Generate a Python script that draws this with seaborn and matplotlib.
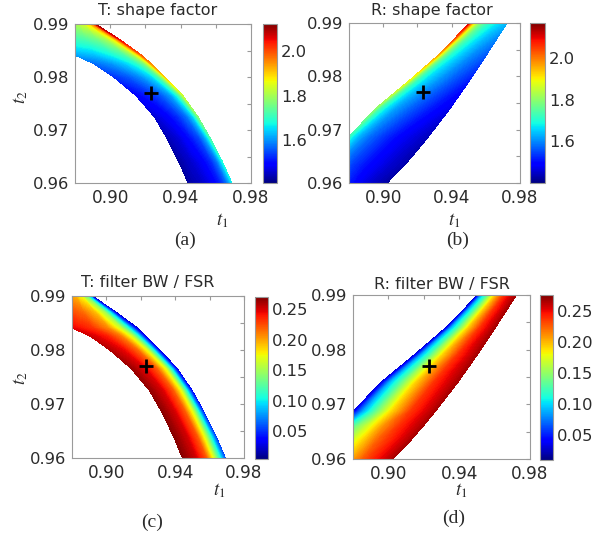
import matplotlib
matplotlib.use("Agg")
import matplotlib.pyplot as plt
import matplotlib.tri as mtri
import numpy as np
import seaborn as sns
from matplotlib.cm import ScalarMappable
from matplotlib.colors import Normalize

# design point marked with "+" in every panel
DESIGN_T1 = [0.923]
DESIGN_T2 = [0.977]

# T panels (a, c): valid band cut along t2, inner (lower-left) and outer edge in t1
T_SECTION_T2 = [0.9590, 0.9640, 0.9685, 0.9725, 0.9765, 0.9800, 0.9825, 0.9841, 0.9870, 0.9910]
T_INNER_T1 = [0.9455, 0.9390, 0.9322, 0.9250, 0.9146, 0.9019, 0.8908, 0.8800, 0.8780, 0.8780]
T_OUTER_T1 = [0.9705, 0.9638, 0.9568, 0.9499, 0.9413, 0.9311, 0.9233, 0.9180, 0.9057, 0.8872]
T_FRAC = [0.0, 0.3, 0.55, 0.75, 0.88, 0.96, 1.0]

T_SHAPE = [
    [1.43, 1.45, 1.48, 1.52, 1.57, 1.62, 1.66],
    [1.43, 1.46, 1.49, 1.53, 1.58, 1.64, 1.68],
    [1.44, 1.47, 1.51, 1.55, 1.61, 1.67, 1.72],
    [1.46, 1.49, 1.53, 1.58, 1.64, 1.71, 1.77],
    [1.49, 1.52, 1.56, 1.61, 1.68, 1.76, 1.83],
    [1.53, 1.56, 1.60, 1.65, 1.72, 1.81, 1.90],
    [1.57, 1.60, 1.64, 1.69, 1.76, 1.86, 1.95],
    [1.61, 1.63, 1.67, 1.72, 1.80, 1.90, 1.99],
    [1.70, 1.72, 1.75, 1.80, 1.87, 1.96, 2.05],
    [1.82, 1.84, 1.87, 1.92, 1.98, 2.05, 2.12],
]
T_BW = [
    [0.268, 0.252, 0.222, 0.157, 0.104, 0.071, 0.056],
    [0.268, 0.251, 0.221, 0.160, 0.103, 0.066, 0.050],
    [0.267, 0.250, 0.220, 0.163, 0.101, 0.058, 0.040],
    [0.265, 0.249, 0.220, 0.166, 0.099, 0.050, 0.032],
    [0.263, 0.247, 0.219, 0.167, 0.098, 0.045, 0.026],
    [0.258, 0.243, 0.216, 0.165, 0.097, 0.043, 0.023],
    [0.252, 0.238, 0.211, 0.162, 0.096, 0.042, 0.022],
    [0.246, 0.232, 0.206, 0.158, 0.095, 0.042, 0.021],
    [0.228, 0.215, 0.192, 0.150, 0.092, 0.040, 0.020],
    [0.200, 0.188, 0.166, 0.130, 0.085, 0.038, 0.018],
]

# R panels (b, d): band between upper-left edge (A) and lower-right edge (B)
R_SECTION_T2 = [0.9590, 0.9635, 0.9660, 0.9687, 0.9740, 0.9790, 0.9840, 0.9875, 0.9910]
R_EDGE_A_T1 = [0.8780, 0.8780, 0.8780, 0.8800, 0.8957, 0.9144, 0.9323, 0.9429, 0.9531]
R_EDGE_B_T1 = [0.8993, 0.9129, 0.9196, 0.9265, 0.9392, 0.9501, 0.9604, 0.9674, 0.9744]
R_FRAC = [0.0, 0.04, 0.12, 0.25, 0.45, 0.7, 1.0]

R_SHAPE = [
    [1.52, 1.51, 1.50, 1.48, 1.46, 1.44, 1.42],
    [1.57, 1.56, 1.54, 1.52, 1.49, 1.46, 1.43],
    [1.63, 1.61, 1.58, 1.55, 1.51, 1.47, 1.43],
    [1.72, 1.68, 1.63, 1.58, 1.53, 1.48, 1.44],
    [1.80, 1.74, 1.68, 1.62, 1.57, 1.52, 1.47],
    [1.88, 1.80, 1.72, 1.66, 1.61, 1.56, 1.51],
    [1.96, 1.88, 1.78, 1.70, 1.65, 1.60, 1.56],
    [2.05, 1.97, 1.86, 1.76, 1.69, 1.64, 1.60],
    [2.13, 2.06, 1.94, 1.82, 1.74, 1.69, 1.65],
]
R_BW = [
    [0.212, 0.214, 0.218, 0.226, 0.238, 0.250, 0.265],
    [0.165, 0.168, 0.178, 0.195, 0.222, 0.243, 0.265],
    [0.120, 0.128, 0.145, 0.170, 0.208, 0.240, 0.265],
    [0.030, 0.050, 0.085, 0.125, 0.185, 0.235, 0.265],
    [0.028, 0.050, 0.090, 0.128, 0.190, 0.238, 0.266],
    [0.025, 0.048, 0.090, 0.127, 0.190, 0.238, 0.266],
    [0.024, 0.047, 0.089, 0.126, 0.190, 0.238, 0.266],
    [0.023, 0.046, 0.088, 0.125, 0.190, 0.238, 0.266],
    [0.022, 0.045, 0.087, 0.124, 0.190, 0.238, 0.266],
]

X_TICKS = [0.88, 0.90, 0.92, 0.94, 0.96, 0.98]
X_TICK_LABELS = ["", "0.90", "", "0.94", "", "0.98"]
Y_TICKS = [0.960, 0.965, 0.970, 0.975, 0.980, 0.985, 0.990]
Y_TICK_LABELS = ["0.96", "", "0.97", "", "0.98", "", "0.99"]

W, H = 614, 536
sns.set_style("white")
plt.rcParams["font.family"] = ["DejaVu Sans"]
plt.rcParams["mathtext.fontset"] = "stix"
TEXT_COLOR = "#2b2b2b"


def px_rect(x0, y0, x1, y1):
    return [x0 / W, 1 - y1 / H, (x1 - x0) / W, (y1 - y0) / H]


def band_triangulation(sec_t2, edge_a, edge_b, frac):
    sec_t2 = np.asarray(sec_t2)
    edge_a = np.asarray(edge_a)
    edge_b = np.asarray(edge_b)
    frac = np.asarray(frac)
    t1 = edge_a[:, None] + (edge_b - edge_a)[:, None] * frac[None, :]
    t2 = np.repeat(sec_t2[:, None], len(frac), axis=1)
    idx = np.arange(t1.size).reshape(t1.shape)
    tris = []
    for i in range(idx.shape[0] - 1):
        for j in range(idx.shape[1] - 1):
            tris.append([idx[i, j], idx[i + 1, j], idx[i + 1, j + 1]])
            tris.append([idx[i, j], idx[i + 1, j + 1], idx[i, j + 1]])
    return mtri.Triangulation(t1.ravel(), t2.ravel(), np.array(tris))


def draw_panel(fig, ax_rect, cax_rect, tri, values, vmin, vmax, cticks, cfmt):
    ax = fig.add_axes(px_rect(*ax_rect))
    cax = fig.add_axes(px_rect(*cax_rect))
    levels = np.linspace(vmin, vmax, 180)
    ax.tricontourf(tri, np.asarray(values).ravel(), levels=levels,
                   cmap="jet", extend="both")
    sns.scatterplot(x=DESIGN_T1, y=DESIGN_T2, marker="+", s=110, color="black",
                    linewidth=2.0, ax=ax, zorder=5)
    ax.set_xlim(0.88, 0.98)
    ax.set_ylim(0.96, 0.99)
    ax.set_xticks(X_TICKS)
    ax.set_xticklabels(X_TICK_LABELS)
    ax.set_yticks(Y_TICKS)
    ax.set_yticklabels(Y_TICK_LABELS)
    ax.tick_params(direction="in", length=3, color="#9a9a9a", top=True, right=True,
                   labelcolor=TEXT_COLOR, pad=4)
    ax.tick_params(axis="x", labelsize=12.2)
    ax.tick_params(axis="y", labelsize=11.8)
    for sp in ax.spines.values():
        sp.set_color("#9a9a9a")
        sp.set_linewidth(0.8)
    ax.set_xlabel("")
    ax.set_ylabel("")

    sm = ScalarMappable(norm=Normalize(vmin, vmax), cmap="jet")
    cb = fig.colorbar(sm, cax=cax, ticks=cticks)
    cb.ax.set_yticklabels([cfmt % v for v in cticks])
    cb.ax.tick_params(labelsize=11.8, length=0, pad=3, labelcolor=TEXT_COLOR)
    cb.outline.set_edgecolor("#9a9a9a")
    cb.outline.set_linewidth(0.8)
    return ax


def fig_text(x, y, s, **kw):
    fig.text(x / W, 1 - y / H, s, ha="center", va="center", color=TEXT_COLOR, **kw)


fig = plt.figure(figsize=(W / 100, H / 100), dpi=100)

tri_t = band_triangulation(T_SECTION_T2, T_INNER_T1, T_OUTER_T1, T_FRAC)
tri_r = band_triangulation(R_SECTION_T2, R_EDGE_A_T1, R_EDGE_B_T1, R_FRAC)

shape_ticks = [1.6, 1.8, 2.0]
bw_ticks = [0.05, 0.10, 0.15, 0.20, 0.25]

draw_panel(fig, (75, 24, 251, 183), (263, 24, 277, 183), tri_t, T_SHAPE,
           1.41, 2.12, shape_ticks, "%.1f")
draw_panel(fig, (349, 23, 520, 183), (530, 23, 545, 183), tri_r, R_SHAPE,
           1.40, 2.17, shape_ticks, "%.1f")
draw_panel(fig, (72, 296, 244, 458), (255, 297, 268, 459), tri_t, T_BW,
           0.005, 0.27, bw_ticks, "%.2f")
draw_panel(fig, (353, 295, 530, 459), (540, 295, 553, 460), tri_r, R_BW,
           0.01, 0.275, bw_ticks, "%.2f")

fig_text(158, 11, "T: shape factor", fontsize=11.5)
fig_text(432, 11, "R: shape factor", fontsize=11.5)
fig_text(148, 283, "T: filter BW / FSR", fontsize=11.5)
fig_text(442, 285, "R: filter BW / FSR", fontsize=11.5)

for x, y in [(222, 221), (454, 221), (219, 491), (461, 491)]:
    fig_text(x, y, r"$t_1$", fontsize=13.5)
for x, y in [(21, 97), (21, 378)]:
    fig_text(x, y, r"$t_2$", fontsize=13.5, rotation=90)

for x, y, s in [(185, 240, "(a)"), (458, 240, "(b)"), (152, 522, "(c)"), (454, 518, "(d)")]:
    fig_text(x, y, s, fontsize=14, family="Liberation Serif")

fig.savefig("out.png", dpi=100, facecolor="white")
